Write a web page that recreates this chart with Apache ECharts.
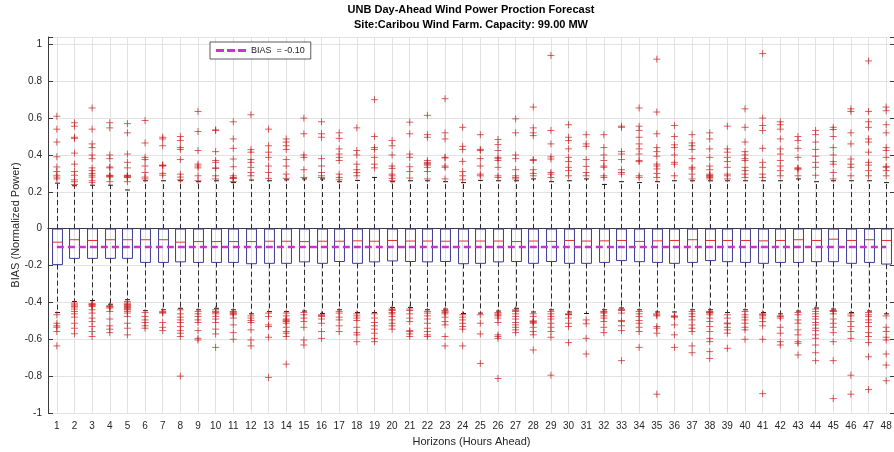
<!DOCTYPE html>
<html>
<head>
<meta charset="utf-8">
<title>UNB Day-Ahead Wind Power Proction Forecast</title>
<script src="https://cdn.jsdelivr.net/npm/echarts@6/dist/echarts.min.js"></script>
<style>
  html, body { margin: 0; padding: 0; background: #fff; }
  .container { width: 894px; height: 452px; }
</style>
</head>
<body>
<div class="container"></div>
<script>
// 横轴: 预测时长 1..48
var horizons = ['1','2','3','4','5','6','7','8','9','10','11','12','13','14','15','16','17','18','19','20','21','22','23','24',
    '25','26','27','28','29','30','31','32','33','34','35','36','37','38','39','40','41','42','43','44','45','46','47','48'];
var yTicks = [-1, -0.8, -0.6, -0.4, -0.2, 0, 0.2, 0.4, 0.6, 0.8, 1];
var biasValue = -0.10;

// 箱体 (下须, Q1, 中位数, Q3, 上须)
var lowWhisker = [-0.455,-0.395,-0.39,-0.41,-0.385,-0.445,-0.44,-0.432,-0.44,-0.432,-0.44,-0.462,-0.45,-0.45,-0.447,-0.46,
    -0.44,-0.455,-0.455,-0.428,-0.428,-0.44,-0.436,-0.46,-0.458,-0.447,-0.432,-0.452,-0.44,-0.452,-0.46,-0.44,
    -0.43,-0.44,-0.452,-0.452,-0.44,-0.44,-0.455,-0.44,-0.455,-0.462,-0.447,-0.43,-0.436,-0.455,-0.447,-0.462];
var q1 = [-0.195,-0.161,-0.161,-0.161,-0.161,-0.183,-0.183,-0.18,-0.183,-0.183,-0.183,-0.19,-0.188,-0.188,-0.18,-0.188,
    -0.178,-0.188,-0.18,-0.175,-0.178,-0.18,-0.178,-0.19,-0.188,-0.18,-0.178,-0.188,-0.178,-0.188,-0.188,-0.183,
    -0.173,-0.179,-0.183,-0.188,-0.183,-0.173,-0.179,-0.183,-0.188,-0.183,-0.183,-0.179,-0.179,-0.188,-0.183,-0.192];
var median = [-0.073,-0.06,-0.064,-0.06,-0.06,-0.06,-0.06,-0.073,-0.07,-0.07,-0.07,-0.07,-0.068,-0.068,-0.07,-0.068,
    -0.068,-0.066,-0.068,-0.064,-0.067,-0.067,-0.068,-0.067,-0.067,-0.067,-0.07,-0.067,-0.069,-0.064,-0.067,-0.066,
    -0.064,-0.069,-0.066,-0.064,-0.06,-0.064,-0.064,-0.064,-0.066,-0.064,-0.06,-0.064,-0.057,-0.064,-0.06,-0.064];
var q3 = [-0.002,-0.001,-0.001,-0.002,-0.001,-0.002,-0.002,-0.002,-0.002,-0.002,-0.002,-0.002,-0.002,-0.002,-0.002,-0.002,
    -0.002,-0.002,-0.002,-0.002,-0.002,-0.002,-0.002,-0.002,-0.002,-0.002,-0.002,-0.002,-0.002,-0.002,-0.002,-0.002,
    -0.002,-0.002,-0.002,-0.002,-0.002,-0.002,-0.002,-0.002,-0.002,-0.002,-0.002,-0.002,-0.002,-0.002,-0.002,-0.002];
var upWhisker = [0.247,0.233,0.236,0.236,0.21,0.26,0.26,0.26,0.255,0.26,0.25,0.264,0.26,0.265,0.27,0.27,
    0.255,0.262,0.278,0.255,0.26,0.26,0.255,0.25,0.262,0.26,0.26,0.27,0.255,0.26,0.27,0.24,
    0.255,0.25,0.255,0.26,0.26,0.26,0.26,0.26,0.26,0.26,0.27,0.255,0.26,0.26,0.26,0.25];

// 离群点 (上方)
var upperOut = [
    [0.61,0.54,0.47,0.39,0.335,0.31,0.29,0.28,0.27],
    [0.575,0.556,0.496,0.49,0.41,0.35,0.31,0.29,0.265,0.255,0.24],
    [0.655,0.54,0.46,0.44,0.40,0.38,0.33,0.315,0.30,0.29,0.28,0.26,0.25],
    [0.575,0.547,0.40,0.38,0.335,0.33,0.29,0.287,0.284,0.28,0.255],
    [0.57,0.52,0.405,0.36,0.33,0.29,0.287,0.284,0.28,0.277,0.255],
    [0.587,0.465,0.387,0.375,0.34,0.305,0.28,0.27],
    [0.496,0.487,0.45,0.345,0.343,0.34,0.30,0.29],
    [0.50,0.478,0.44,0.43,0.375,0.296,0.28,0.265],
    [0.636,0.527,0.424,0.35,0.34,0.33,0.287,0.26],
    [0.536,0.533,0.418,0.37,0.36,0.33,0.327,0.287,0.27],
    [0.58,0.487,0.436,0.378,0.336,0.287,0.278,0.275,0.272,0.255],
    [0.618,0.429,0.415,0.375,0.36,0.333,0.305,0.287],
    [0.54,0.45,0.415,0.387,0.34,0.305,0.273],
    [0.487,0.47,0.45,0.43,0.375,0.34,0.296,0.273],
    [0.60,0.515,0.40,0.387,0.32,0.278],
    [0.58,0.515,0.496,0.38,0.34,0.305,0.287,0.278],
    [0.52,0.49,0.433,0.405,0.387,0.37,0.296,0.278,0.265],
    [0.547,0.424,0.40,0.35,0.32,0.305,0.287],
    [0.70,0.50,0.44,0.43,0.387,0.35,0.33],
    [0.478,0.45,0.40,0.34,0.327,0.296,0.287,0.273,0.26],
    [0.578,0.515,0.405,0.387,0.336,0.31,0.275],
    [0.615,0.51,0.496,0.37,0.36,0.355,0.35,0.345,0.333,0.31,0.27],
    [0.705,0.52,0.487,0.387,0.384,0.34,0.333,0.27],
    [0.55,0.447,0.43,0.365,0.31,0.287,0.265],
    [0.51,0.43,0.424,0.38,0.34,0.296,0.287],
    [0.484,0.456,0.424,0.387,0.38,0.37,0.333,0.287,0.278],
    [0.596,0.52,0.40,0.38,0.32,0.287,0.278,0.27],
    [0.66,0.547,0.52,0.505,0.375,0.37,0.32,0.30,0.287],
    [0.94,0.533,0.46,0.39,0.378,0.305,0.296,0.278],
    [0.564,0.496,0.478,0.433,0.387,0.364,0.333,0.315,0.287],
    [0.51,0.46,0.447,0.375,0.338,0.305,0.287],
    [0.51,0.44,0.40,0.37,0.34,0.333,0.287,0.278],
    [0.556,0.55,0.418,0.405,0.375,0.32,0.305,0.296],
    [0.655,0.556,0.533,0.496,0.46,0.433,0.405,0.37,0.364,0.287,0.278],
    [0.92,0.633,0.515,0.44,0.418,0.393,0.35,0.34,0.324,0.30,0.278],
    [0.56,0.50,0.455,0.44,0.40,0.36,0.35,0.287],
    [0.51,0.465,0.45,0.43,0.38,0.333,0.324,0.296,0.27],
    [0.52,0.487,0.433,0.387,0.34,0.32,0.296,0.29,0.287,0.282,0.278,0.27],
    [0.556,0.433,0.415,0.387,0.364,0.333,0.296,0.287,0.27],
    [0.65,0.55,0.47,0.418,0.40,0.38,0.37,0.333,0.315,0.296,0.278],
    [0.95,0.60,0.56,0.533,0.436,0.36,0.333,0.296,0.278],
    [0.58,0.564,0.54,0.487,0.433,0.405,0.37,0.34,0.315,0.287],
    [0.50,0.478,0.436,0.387,0.33,0.327,0.32,0.287],
    [0.533,0.51,0.47,0.43,0.393,0.36,0.333,0.29],
    [0.55,0.538,0.50,0.44,0.40,0.364,0.35,0.305,0.27],
    [0.65,0.636,0.52,0.46,0.378,0.35,0.333,0.287],
    [0.91,0.636,0.58,0.55,0.487,0.47,0.415,0.36,0.345,0.315,0.287],
    [0.66,0.64,0.564,0.52,0.44,0.424,0.387,0.338,0.333,0.315,0.287]
];
// 离群点 (下方)
var lowerOut = [
    [-0.467,-0.513,-0.527,-0.535,-0.558,-0.636],
    [-0.404,-0.413,-0.42,-0.425,-0.436,-0.449,-0.462,-0.48,-0.513,-0.54,-0.57],
    [-0.407,-0.41,-0.413,-0.418,-0.422,-0.44,-0.458,-0.485,-0.504,-0.531,-0.558,-0.585],
    [-0.418,-0.422,-0.425,-0.431,-0.449,-0.49,-0.527,-0.545,-0.564],
    [-0.395,-0.404,-0.41,-0.413,-0.418,-0.422,-0.427,-0.431,-0.436,-0.44,-0.449,-0.458,-0.476,-0.513,-0.54,-0.576],
    [-0.455,-0.476,-0.495,-0.509,-0.527,-0.54],
    [-0.449,-0.455,-0.458,-0.509,-0.535,-0.553],
    [-0.44,-0.462,-0.48,-0.495,-0.509,-0.531,-0.553,-0.567,-0.585,-0.80],
    [-0.449,-0.462,-0.476,-0.495,-0.509,-0.553,-0.595,-0.604],
    [-0.44,-0.449,-0.455,-0.462,-0.476,-0.49,-0.509,-0.545,-0.571,-0.644],
    [-0.449,-0.453,-0.458,-0.462,-0.467,-0.485,-0.522,-0.564,-0.60],
    [-0.473,-0.485,-0.498,-0.509,-0.549,-0.604,-0.636],
    [-0.458,-0.476,-0.522,-0.531,-0.589,-0.807],
    [-0.458,-0.473,-0.49,-0.495,-0.50,-0.504,-0.513,-0.535,-0.558,-0.567,-0.585,-0.735],
    [-0.455,-0.467,-0.485,-0.504,-0.535,-0.604,-0.631],
    [-0.467,-0.472,-0.476,-0.49,-0.513,-0.558,-0.595],
    [-0.449,-0.458,-0.48,-0.495,-0.527,-0.558],
    [-0.462,-0.473,-0.485,-0.498,-0.535,-0.564,-0.576,-0.613],
    [-0.462,-0.485,-0.509,-0.527,-0.545,-0.567,-0.595,-0.613],
    [-0.436,-0.44,-0.444,-0.455,-0.462,-0.476,-0.495,-0.513,-0.527,-0.545],
    [-0.436,-0.444,-0.462,-0.485,-0.504,-0.553,-0.558,-0.571,-0.585],
    [-0.449,-0.458,-0.473,-0.49,-0.513,-0.54,-0.558,-0.576,-0.585],
    [-0.444,-0.448,-0.455,-0.462,-0.48,-0.504,-0.522,-0.585,-0.636],
    [-0.467,-0.48,-0.495,-0.513,-0.531,-0.545,-0.636],
    [-0.467,-0.513,-0.571,-0.731],
    [-0.455,-0.462,-0.468,-0.473,-0.485,-0.509,-0.576,-0.585,-0.595,-0.813],
    [-0.44,-0.445,-0.449,-0.462,-0.476,-0.49,-0.509,-0.522,-0.535,-0.549,-0.564],
    [-0.462,-0.476,-0.50,-0.504,-0.508,-0.513,-0.535,-0.558,-0.576,-0.658],
    [-0.449,-0.462,-0.476,-0.49,-0.513,-0.535,-0.558,-0.589,-0.795],
    [-0.462,-0.465,-0.467,-0.485,-0.513,-0.531,-0.618],
    [-0.495,-0.516,-0.595,-0.68],
    [-0.449,-0.453,-0.458,-0.473,-0.485,-0.504,-0.535,-0.564],
    [-0.436,-0.44,-0.444,-0.458,-0.498,-0.504,-0.527,-0.553,-0.716],
    [-0.449,-0.462,-0.476,-0.498,-0.513,-0.535,-0.558,-0.644],
    [-0.462,-0.468,-0.473,-0.531,-0.54,-0.567,-0.898],
    [-0.473,-0.477,-0.48,-0.522,-0.576,-0.644],
    [-0.449,-0.462,-0.476,-0.495,-0.522,-0.54,-0.558,-0.636,-0.673],
    [-0.449,-0.452,-0.455,-0.458,-0.467,-0.485,-0.504,-0.531,-0.558,-0.595,-0.613,-0.667,-0.704],
    [-0.467,-0.485,-0.512,-0.516,-0.535,-0.549,-0.567,-0.649],
    [-0.449,-0.467,-0.48,-0.495,-0.513,-0.535,-0.549,-0.60],
    [-0.462,-0.467,-0.473,-0.485,-0.504,-0.527,-0.60,-0.895],
    [-0.473,-0.477,-0.485,-0.535,-0.567,-0.613,-0.631],
    [-0.455,-0.467,-0.495,-0.513,-0.549,-0.576,-0.613,-0.622,-0.685],
    [-0.436,-0.449,-0.462,-0.476,-0.49,-0.509,-0.522,-0.54,-0.553,-0.576,-0.595,-0.631,-0.673,-0.716],
    [-0.444,-0.447,-0.449,-0.462,-0.49,-0.513,-0.535,-0.564,-0.613,-0.716,-0.922],
    [-0.462,-0.473,-0.504,-0.531,-0.558,-0.595,-0.795,-0.898],
    [-0.455,-0.467,-0.476,-0.495,-0.509,-0.531,-0.564,-0.585,-0.618,-0.695,-0.873],
    [-0.473,-0.535,-0.558,-0.589,-0.604,-0.68,-0.74,-0.825]
];

var dom = document.querySelector('.container');
var myChart = echarts.init(dom);
var font = 'Arial, "Liberation Sans", Helvetica, sans-serif';

// 组装数据
var boxData = [];
var outData = [];
var biasData = [];
for (var i = 0; i < horizons.length; i++) {
    boxData.push([i, lowWhisker[i], q1[i], median[i], q3[i], upWhisker[i]]);
    biasData.push(biasValue);
    upperOut[i].forEach(function (v) { outData.push([i, v]); });
    lowerOut[i].forEach(function (v) { outData.push([i, v]); });
}

// 箱线图 (matlab 风格: 虚线须)
function renderBox(params, api) {
    var x = api.value(0);
    var pLow = api.coord([x, api.value(1)]);
    var pQ1 = api.coord([x, api.value(2)]);
    var pMed = api.coord([x, api.value(3)]);
    var pQ3 = api.coord([x, api.value(4)]);
    var pUp = api.coord([x, api.value(5)]);
    var bw = api.size([1, 0])[0] * 0.56;
    var cx = Math.round(pQ1[0]) + 0.5;
    var half = bw / 2;
    var cap = bw / 4;
    var dash = { stroke: '#2a2a2a', lineWidth: 1, lineDash: [5, 3] };
    var solid = { stroke: '#1a1a1a', lineWidth: 1 };
    return {
        type: 'group',
        children: [
            { type: 'line', shape: { x1: cx, y1: pQ3[1], x2: cx, y2: pUp[1] }, style: dash },
            { type: 'line', shape: { x1: cx, y1: pQ1[1], x2: cx, y2: pLow[1] }, style: dash },
            { type: 'line', shape: { x1: cx - cap, y1: pUp[1], x2: cx + cap, y2: pUp[1] }, style: solid },
            { type: 'line', shape: { x1: cx - cap, y1: pLow[1], x2: cx + cap, y2: pLow[1] }, style: solid },
            {
                type: 'rect',
                shape: { x: cx - half, y: pQ3[1], width: bw, height: pQ1[1] - pQ3[1] },
                style: { fill: 'none', stroke: '#3a3a94', lineWidth: 1 }
            },
            { type: 'line', shape: { x1: cx - half, y1: pMed[1], x2: cx + half, y2: pMed[1] }, style: { stroke: '#e03030', lineWidth: 1 } }
        ]
    };
}

var axisColor = '#3a3a3a';
var gridColor = '#e2e2e2';

option = {
    animation: false,
    backgroundColor: '#fff',
    textStyle: { fontFamily: font },
    // 标题
    graphic: [
        { type: 'text', x: 471, y: 4, style: { text: 'UNB Day-Ahead Wind Power Proction Forecast', textAlign: 'center', fontFamily: font, fontSize: 11, fontWeight: 'bold', fill: '#000' } },
        { type: 'text', x: 471, y: 19, style: { text: 'Site:Caribou Wind Farm. Capacity: 99.00 MW', textAlign: 'center', fontFamily: font, fontSize: 11, fontWeight: 'bold', fill: '#000' } }
    ],
    legend: {
        left: 210,
        top: 42,
        orient: 'horizontal',
        padding: [4, 6, 4, 6],
        borderColor: '#333',
        borderWidth: 0.8,
        backgroundColor: '#fff',
        // 三段虚线图例
        icon: 'path://M0,0h8v3h-8zM11,0h8v3h-8zM22,0h8v3h-8z',
        itemWidth: 30,
        itemHeight: 3,
        itemGap: 4,
        itemStyle: { color: '#cc33cc' },
        textStyle: { fontSize: 9, color: '#222', fontFamily: font },
        data: ['BIAS  = -0.10']
    },
    grid: {
        left: 48,
        top: 37,
        width: 847,
        height: 376,
        outerBoundsMode: 'none'
    },
    xAxis: [
        {
            type: 'category',
            data: horizons,
            name: 'Horizons (Hours Ahead)',
            nameLocation: 'middle',
            nameGap: 23,
            nameTextStyle: { fontSize: 11, color: '#262626', fontFamily: font },
            axisLine: { lineStyle: { color: axisColor, width: 1 } },
            axisTick: { inside: true, length: 5, alignWithLabel: true, lineStyle: { color: axisColor } },
            axisLabel: { fontSize: 10, color: '#262626', margin: 8, interval: 0 },
            splitLine: { show: true, alignWithLabel: true, interval: 0, lineStyle: { color: gridColor, width: 1 } }
        },
        {
            type: 'category',
            data: horizons,
            position: 'top',
            axisLine: { lineStyle: { color: axisColor, width: 1 } },
            axisTick: { inside: true, length: 5, alignWithLabel: true, lineStyle: { color: axisColor } },
            axisLabel: { show: false },
            splitLine: { show: false }
        }
    ],
    yAxis: [
        {
            type: 'value',
            min: -1,
            max: 1.04,
            interval: 0.2,
            name: 'BIAS (Normalized Power)',
            nameLocation: 'middle',
            nameGap: 27,
            nameMoveOverlap: false,
            nameTextStyle: { fontSize: 11, color: '#262626', fontFamily: font },
            axisLine: { show: true, lineStyle: { color: axisColor, width: 1 } },
            axisTick: { show: true, inside: true, length: 5, lineStyle: { color: axisColor } },
            axisLabel: {
                fontSize: 10,
                color: '#262626',
                margin: 6,
                formatter: function (v) {
                    // 只显示刻度数组中的值
                    for (var k = 0; k < yTicks.length; k++) {
                        if (Math.abs(yTicks[k] - v) < 1e-6) return String(yTicks[k]);
                    }
                    return '';
                }
            },
            splitLine: { show: true, lineStyle: { color: gridColor, width: 1 } }
        },
        {
            type: 'value',
            min: -1,
            max: 1.04,
            interval: 0.2,
            position: 'right',
            axisLine: { show: true, lineStyle: { color: axisColor, width: 1 } },
            axisTick: { show: true, inside: true, length: 5, lineStyle: { color: axisColor } },
            axisLabel: { show: false },
            splitLine: { show: false }
        }
    ],
    series: [
        {
            name: 'box',
            type: 'custom',
            renderItem: renderBox,
            data: boxData,
            encode: { x: 0, y: [1, 2, 3, 4, 5] },
            z: 2,
            silent: true
        },
        {
            name: 'BIAS  = -0.10',
            type: 'line',
            data: biasData,
            symbol: 'none',
            lineStyle: { color: '#cc33cc', width: 2.5, type: [7, 4] },
            itemStyle: { color: '#cc33cc' },
            z: 3,
            silent: true
        },
        {
            name: 'outliers',
            type: 'scatter',
            data: outData,
            symbol: 'path://M0,5L10,5M5,0L5,10',
            symbolSize: 7,
            itemStyle: { color: 'none', borderColor: 'rgba(200,25,25,0.85)', borderWidth: 1 },
            z: 4,
            silent: true
        }
    ]
};

if (option && typeof option === 'object') {
    myChart.setOption(option, true);
}
</script>
</body>
</html>
